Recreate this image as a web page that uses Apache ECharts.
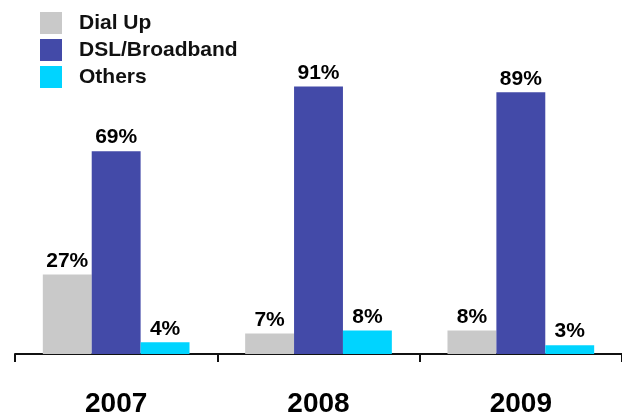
<!DOCTYPE html>
<html>
<head>
<meta charset="utf-8">
<script src="https://cdn.jsdelivr.net/npm/echarts@6/dist/echarts.min.js"></script>
<style>
  html, body { margin: 0; padding: 0; background: #fff; }
  #chart { width: 622px; height: 415px; }
</style>
</head>
<body>
<div id="chart"></div>
<script>
// Internet connection type share by year (%)
const years = ['2007', '2008', '2009'];
const dialUp = [27, 7, 8];
const broadband = [69, 91, 89];
const others = [4, 8, 3];

const seriesNames = ['Dial Up', 'DSL/Broadband', 'Others'];
const seriesColors = ['#C9C9C9', '#434AA8', '#00D4FF'];
const seriesData = [dialUp, broadband, others];

const FONT = '"Liberation Sans", Arial, sans-serif';

const chart = echarts.init(document.getElementById('chart'), null, { renderer: 'canvas' });

chart.setOption({
  animation: false,
  backgroundColor: '#ffffff',
  legend: {
    orient: 'vertical',
    left: 40,
    top: 12,
    padding: 0,
    itemWidth: 22,
    itemHeight: 22,
    itemGap: 5,
    icon: 'rect',
    textStyle: {
      fontFamily: FONT,
      fontWeight: 'bold',
      fontSize: 21,
      color: '#111',
      padding: [0, 0, 0, 12]
    },
    data: seriesNames
  },
  grid: {
    left: 15, right: 0, top: 60, bottom: 61,
    containLabel: false,
    outerBoundsMode: 'none'
  },
  xAxis: {
    type: 'category',
    data: years,
    axisLine: { show: true, lineStyle: { color: '#111', width: 2 } },
    axisTick: { show: true, alignWithLabel: false, length: 8, lineStyle: { color: '#111', width: 2 } },
    axisLabel: {
      margin: 36,
      fontFamily: FONT,
      fontWeight: 'bold',
      fontSize: 28,
      color: '#000'
    }
  },
  yAxis: {
    type: 'value',
    min: 0,
    max: 100,
    show: false,
    splitLine: { show: false }
  },
  series: seriesData.map((data, i) => ({
    name: seriesNames[i],
    type: 'bar',
    data: data,
    barGap: '0%',
    barCategoryGap: '27.5%',
    itemStyle: { color: seriesColors[i] },
    label: {
      show: true,
      position: 'top',
      distance: 3,
      formatter: '{c}%',
      fontFamily: FONT,
      fontWeight: 'bold',
      fontSize: 21,
      color: '#000'
    }
  }))
});
</script>
</body>
</html>
